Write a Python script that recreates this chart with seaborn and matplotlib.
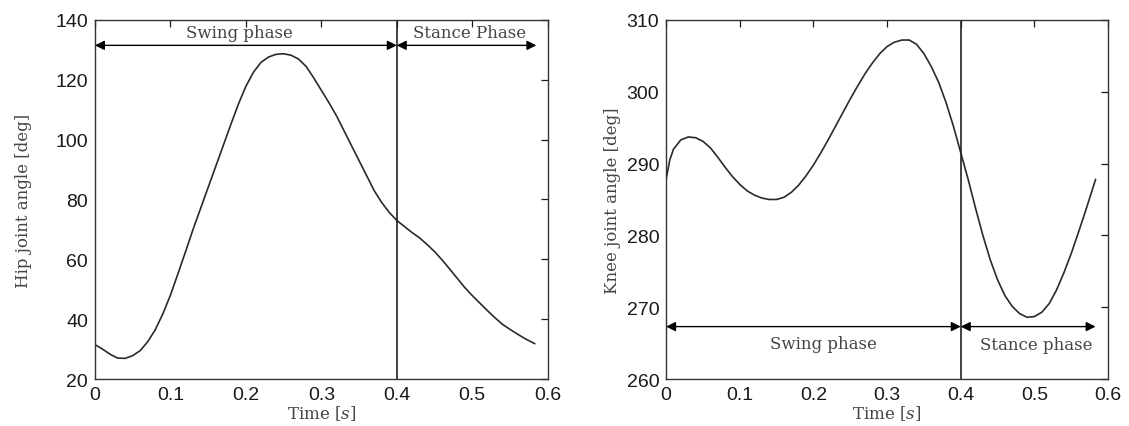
import matplotlib
matplotlib.use("Agg")
import matplotlib.pyplot as plt
import seaborn as sns
import pandas as pd

hip_time = [0.0, 0.01, 0.02, 0.03, 0.04, 0.05, 0.06, 0.07, 0.08, 0.09,
            0.10, 0.11, 0.12, 0.13, 0.14, 0.15, 0.16, 0.17, 0.18, 0.19,
            0.20, 0.21, 0.22, 0.23, 0.24, 0.25, 0.26, 0.27, 0.28, 0.29,
            0.30, 0.31, 0.32, 0.33, 0.34, 0.35, 0.36, 0.37, 0.38, 0.39,
            0.40, 0.41, 0.42, 0.43, 0.44, 0.45, 0.46, 0.47, 0.48, 0.49,
            0.50, 0.51, 0.52, 0.53, 0.54, 0.55, 0.56, 0.57, 0.583]
hip_angle = [31.5, 30.0, 28.3, 27.0, 26.9, 27.8, 29.5, 32.5, 36.5, 41.8,
             48.0, 55.2, 62.5, 70.0, 77.0, 84.0, 91.0, 98.0, 105.0, 111.8,
             117.8, 122.5, 125.8, 127.6, 128.5, 128.7, 128.2, 126.9, 124.4, 120.6,
             116.5, 112.4, 108.0, 103.0, 98.0, 93.0, 88.0, 83.0, 79.0, 75.7,
             73.0, 71.0, 69.0, 67.2, 65.0, 62.6, 59.8, 56.8, 53.7, 50.6,
             47.9, 45.4, 42.9, 40.5, 38.3, 36.6, 35.0, 33.5, 31.8]

knee_time = [0.0, 0.005, 0.01, 0.02, 0.03, 0.04, 0.05, 0.06, 0.07, 0.08, 0.09,
             0.10, 0.11, 0.12, 0.13, 0.14, 0.15, 0.16, 0.17, 0.18, 0.19,
             0.20, 0.21, 0.22, 0.23, 0.24, 0.25, 0.26, 0.27, 0.28, 0.29,
             0.30, 0.31, 0.32, 0.33, 0.34, 0.35, 0.36, 0.37, 0.38, 0.39,
             0.40, 0.41, 0.42, 0.43, 0.44, 0.45, 0.46, 0.47, 0.48, 0.49,
             0.50, 0.51, 0.52, 0.53, 0.54, 0.55, 0.56, 0.57, 0.583]
knee_angle = [287.8, 290.5, 292.0, 293.3, 293.7, 293.6, 293.1, 292.2, 290.9, 289.5, 288.2,
              287.1, 286.2, 285.6, 285.2, 285.0, 285.0, 285.3, 286.0, 287.0, 288.3,
              289.8, 291.5, 293.3, 295.2, 297.1, 299.0, 300.8, 302.5, 304.0, 305.3,
              306.3, 306.9, 307.2, 307.2, 306.6, 305.3, 303.5, 301.3, 298.5, 295.2,
              291.5, 287.8, 283.8, 280.0, 276.6, 273.8, 271.6, 270.1, 269.1, 268.6,
              268.7, 269.3, 270.5, 272.4, 274.8, 277.5, 280.5, 283.6, 287.8]

phase_labels_hip = ["Swing phase", "Stance Phase"]
phase_labels_knee = ["Swing phase", "Stance phase"]
x_ticks = [0, 0.1, 0.2, 0.3, 0.4, 0.5, 0.6]
x_tick_labels = ["0", "0.1", "0.2", "0.3", "0.4", "0.5", "0.6"]
hip_yticks = [20, 40, 60, 80, 100, 120, 140]
knee_yticks = [260, 270, 280, 290, 300, 310]

sns.set_style("white")
plt.rcParams["mathtext.fontset"] = "dejavuserif"

fig = plt.figure(figsize=(11.29, 4.27), dpi=100)
ax1 = fig.add_axes([0.0841, 0.110, 0.401, 0.841])
ax2 = fig.add_axes([0.590, 0.110, 0.3915, 0.841])

hip_df = pd.DataFrame({"t": hip_time, "a": hip_angle})
knee_df = pd.DataFrame({"t": knee_time, "a": knee_angle})

line_col = "#2a2a2a"
sns.lineplot(data=hip_df, x="t", y="a", ax=ax1, color=line_col, linewidth=1.2)
sns.lineplot(data=knee_df, x="t", y="a", ax=ax2, color=line_col, linewidth=1.2)

label_font = dict(family="DejaVu Serif", size=12, color="#444444")
text_font = dict(family="DejaVu Serif", size=12, color="#444444")

def style(ax, yticks, ylim, ylabel, ylabelpad):
    ax.set_xlim(0, 0.6)
    ax.set_ylim(*ylim)
    ax.set_xticks(x_ticks)
    ax.set_xticklabels(x_tick_labels)
    ax.set_yticks(yticks)
    ax.tick_params(direction="in", length=5, width=0.9, top=True, right=True,
                   labelsize=14, colors="#1a1a1a", pad=5)
    for lab in ax.get_xticklabels() + ax.get_yticklabels():
        lab.set_family("Liberation Sans")
    for s in ax.spines.values():
        s.set_color("#333333")
        s.set_linewidth(1.0)
        s.set_visible(True)
    ax.set_xlabel("Time [$s$]", labelpad=0, **label_font)
    ax.set_ylabel(ylabel, labelpad=ylabelpad, **label_font)
    ax.axvline(0.4, color="#222222", linewidth=1.2)

style(ax1, hip_yticks, (20, 140), "Hip joint angle [deg]", 17)
style(ax2, knee_yticks, (260, 310), "Knee joint angle [deg]", 4)

arrow = dict(arrowstyle="<|-|>", color="black", lw=1.0, mutation_scale=14,
             shrinkA=0, shrinkB=0)

# Hip annotations
ax1.annotate("", xy=(0.0, 131.5), xytext=(0.4, 131.5), arrowprops=arrow)
ax1.annotate("", xy=(0.4, 131.5), xytext=(0.585, 131.5), arrowprops=arrow)
ax1.text(0.192, 135.7, phase_labels_hip[0], ha="center", va="center", **text_font)
ax1.text(0.497, 135.7, phase_labels_hip[1], ha="center", va="center", **text_font)

# Knee annotations
ax2.annotate("", xy=(0.0, 267.3), xytext=(0.4, 267.3), arrowprops=arrow)
ax2.annotate("", xy=(0.4, 267.3), xytext=(0.583, 267.3), arrowprops=arrow)
ax2.text(0.2135, 265.0, phase_labels_knee[0], ha="center", va="center", **text_font)
ax2.text(0.502, 264.8, phase_labels_knee[1], ha="center", va="center", **text_font)

fig.savefig("out.png", dpi=100)
